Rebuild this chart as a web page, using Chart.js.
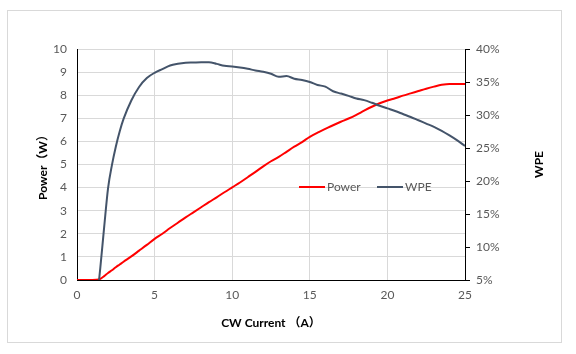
<!DOCTYPE html>
<html><head><meta charset="utf-8">
<script src="https://cdn.jsdelivr.net/npm/chart.js@4"></script>
<style>html,body{margin:0;padding:0;background:#fff}#wrap{width:576px;height:354px}</style>
</head><body><div id="wrap"><canvas id="c" width="576" height="354"></canvas></div>
<script>
// ---- data ----
const current = [0,0.5,1.0,1.42,1.5,1.75,2.0,2.25,2.5,2.75,3.0,3.5,4.0,4.5,5.0,5.5,6.0,6.5,7.0,7.5,8.0,8.5,9.0,9.5,10.0,10.5,11.0,11.5,12.0,12.5,13.0,13.5,14.0,14.5,15.0,15.5,16.0,16.5,17.0,17.5,18.0,18.5,19.0,19.5,20.0,20.5,21.0,21.5,22.0,22.5,23.0,23.5,24.0,24.5,25.0];
const power = [0,0,0,0.02,0.05,0.17,0.3,0.42,0.55,0.67,0.79,1.02,1.27,1.52,1.78,2.0,2.25,2.48,2.71,2.93,3.15,3.37,3.58,3.8,4.01,4.22,4.45,4.68,4.92,5.14,5.33,5.55,5.77,5.97,6.2,6.38,6.54,6.7,6.85,6.99,7.15,7.33,7.5,7.65,7.77,7.87,7.98,8.08,8.18,8.28,8.37,8.45,8.49,8.49,8.49];
const wpe = [null,null,null,5.0,6.8,13.0,18.9,22.4,25.2,27.5,29.4,32.2,34.25,35.6,36.4,36.95,37.5,37.75,37.9,37.95,38.0,38.0,37.75,37.45,37.35,37.2,37.0,36.75,36.55,36.25,35.8,35.9,35.5,35.3,35.0,34.55,34.3,33.6,33.25,32.9,32.5,32.25,31.85,31.4,31.0,30.6,30.15,29.7,29.2,28.7,28.2,27.6,26.9,26.15,25.3];
const seriesNames = ['Power', 'WPE'];
const xTitle = 'CW Current （A）';
const yTitle = 'Power（W）';
const y1Title = 'WPE';

const FONT = "Lato, 'Noto Sans CJK SC', sans-serif";
const RED = '#FF0000';
const GRAY = '#44546A';

const powerPts = current.map((x, i) => ({x, y: power[i]}));
const wpePts = current.map((x, i) => ({x, y: wpe[i]})).filter(p => p.y !== null);

const borderPlugin = {
  id: 'outerBorder',
  beforeDraw(chart) {
    const c = chart.ctx;
    c.save();
    c.fillStyle = '#fff';
    c.fillRect(0, 0, chart.width, chart.height);
    c.strokeStyle = '#D9D9D9';
    c.lineWidth = 1;
    c.strokeRect(7.5, 10.5, 554, 332);
    c.restore();
  }
};

// right-axis title, read bottom-to-top like the left one
const rightTitlePlugin = {
  id: 'rightTitle',
  afterDraw(chart) {
    const c = chart.ctx;
    const s = chart.scales.y1;
    c.save();
    c.font = 'bold 12px ' + FONT;
    c.fillStyle = '#000';
    c.textAlign = 'center';
    c.textBaseline = 'middle';
    c.translate(s.right - 37, (s.top + s.bottom) / 2);
    c.rotate(-Math.PI / 2);
    c.fillText(y1Title, 0, 0);
    c.restore();
  }
};

const legendPlugin = {
  id: 'innerLegend',
  afterDraw(chart) {
    const c = chart.ctx;
    const items = [
      {ds: chart.data.datasets[0], x: 299},
      {ds: chart.data.datasets[1], x: 377}
    ];
    const y = 187;
    c.save();
    c.font = '12px ' + FONT;
    c.textBaseline = 'middle';
    c.fillStyle = '#595959';
    items.forEach(it => {
      c.strokeStyle = it.ds.borderColor;
      c.lineWidth = 2;
      c.beginPath();
      c.moveTo(it.x, y);
      c.lineTo(it.x + 26, y);
      c.stroke();
      c.fillText(it.ds.label, it.x + 28, y);
    });
    c.restore();
  }
};

new Chart(document.getElementById('c'), {
  type: 'line',
  data: {
    datasets: [
      {label: seriesNames[0], data: powerPts, borderColor: RED, backgroundColor: RED, borderWidth: 2, pointRadius: 0, cubicInterpolationMode: 'monotone', yAxisID: 'y', order: 1},
      {label: seriesNames[1], data: wpePts, borderColor: GRAY, backgroundColor: GRAY, borderWidth: 2, pointRadius: 0, cubicInterpolationMode: 'monotone', yAxisID: 'y1', order: 0}
    ]
  },
  options: {
    responsive: false,
    animation: false,
    devicePixelRatio: 1,
    layout: {padding: {top: 49, left: 0, right: 0, bottom: 0}},
    plugins: {legend: {display: false}, tooltip: {enabled: false}},
    scales: {
      x: {
        type: 'linear', min: 0, max: 25,
        ticks: {stepSize: 5, color: '#595959', font: {family: FONT, size: 12}, padding: 8},
        grid: {color: '#D9D9D9', drawTicks: false},
        border: {color: '#000', width: 1},
        title: {display: true, text: xTitle, color: '#000', font: {family: FONT, size: 12, weight: 'bold'}, padding: {top: 0, bottom: 24}},
        afterFit(s) { s.height = 74; }
      },
      y: {
        type: 'linear', position: 'left', min: 0, max: 10,
        ticks: {stepSize: 1, color: '#595959', font: {family: FONT, size: 12}, padding: 10},
        grid: {color: '#D9D9D9', drawTicks: false},
        border: {color: '#000', width: 1},
        title: {display: true, text: yTitle, color: '#000', font: {family: FONT, size: 12, weight: 'bold'}, padding: {top: 36, bottom: 0}},
        afterFit(s) { s.width = 77; }
      },
      y1: {
        type: 'linear', position: 'right', min: 5, max: 40,
        ticks: {stepSize: 5, color: '#595959', font: {family: FONT, size: 12}, padding: 6, callback: v => Math.round(v) + '%'},
        grid: {drawOnChartArea: false, drawTicks: true, tickLength: 5, tickColor: '#000', color: '#000'},
        border: {color: '#000', width: 1},
        title: {display: false},
        afterFit(s) { s.width = 111; }
      }
    }
  },
  plugins: [borderPlugin, legendPlugin, rightTitlePlugin]
});
</script>
</body></html>
